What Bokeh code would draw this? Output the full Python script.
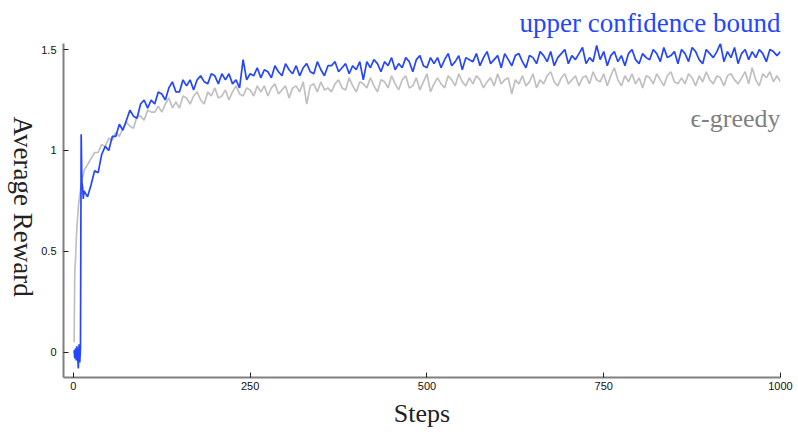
import math
from bokeh.plotting import figure
from bokeh.layouts import row
from bokeh.models import Label, FixedTicker, Range1d
from bokeh.embed import file_html
from bokeh.resources import INLINE

steps = list(range(1, 15)) + list(range(15, 1001, 5))

ucb = [
    0.01, -0.03, 0.02, -0.04, 0.03, -0.02, -0.08, 0.04, -0.05, 0.02, 1.08, 0.84, 0.82, 0.76,
    0.80, 0.77, 0.83, 0.90, 0.89, 0.98, 1.02, 1.00, 1.07, 1.07,
    1.13, 1.10, 1.15, 1.20, 1.17, 1.16, 1.23, 1.25, 1.21, 1.25,
    1.23, 1.29, 1.28, 1.25, 1.31, 1.34, 1.29, 1.29, 1.35, 1.32,
    1.35, 1.30, 1.35, 1.37, 1.34, 1.33, 1.38, 1.37, 1.33, 1.38,
    1.35, 1.38, 1.33, 1.35, 1.31, 1.45, 1.35, 1.38, 1.37, 1.41,
    1.36, 1.40, 1.39, 1.36, 1.42, 1.39, 1.37, 1.43, 1.40, 1.38,
    1.42, 1.37, 1.41, 1.43, 1.39, 1.38, 1.44, 1.40, 1.37, 1.42,
    1.42, 1.44, 1.39, 1.41, 1.43, 1.38, 1.42, 1.40, 1.44, 1.35,
    1.44, 1.41, 1.45, 1.43, 1.39, 1.44, 1.42, 1.46, 1.40, 1.43,
    1.41, 1.46, 1.44, 1.39, 1.45, 1.47, 1.42, 1.41, 1.46, 1.43,
    1.46, 1.41, 1.45, 1.48, 1.42, 1.44, 1.47, 1.40, 1.46, 1.45,
    1.44, 1.48, 1.42, 1.46, 1.49, 1.43, 1.45, 1.47, 1.41, 1.48,
    1.45, 1.42, 1.47, 1.48, 1.44, 1.41, 1.47, 1.46, 1.43, 1.49,
    1.47, 1.44, 1.49, 1.42, 1.46, 1.48, 1.50, 1.43, 1.47, 1.45,
    1.48, 1.51, 1.43, 1.46, 1.44, 1.52, 1.45, 1.49, 1.42, 1.47,
    1.49, 1.44, 1.47, 1.42, 1.48, 1.50, 1.45, 1.43, 1.48, 1.46,
    1.45, 1.50, 1.48, 1.44, 1.51, 1.46, 1.47, 1.49, 1.43, 1.50,
    1.48, 1.44, 1.51, 1.49, 1.45, 1.43, 1.50, 1.48, 1.46, 1.49,
    1.53, 1.44, 1.49, 1.46, 1.51, 1.43, 1.48, 1.50, 1.45, 1.49,
    1.46, 1.50, 1.48, 1.44, 1.50, 1.49, 1.47, 1.49,
]

egreedy = [
    0.05, 0.40, 0.46, 0.55, 0.62, 0.67, 0.72, 0.75, 0.78, 0.80, 0.83, 0.85, 0.87, 0.88,
    0.90, 0.93, 0.96, 0.99, 0.99, 1.03, 1.02, 1.06, 1.05, 1.09,
    1.07, 1.11, 1.14, 1.12, 1.11, 1.17, 1.17, 1.15, 1.20, 1.19,
    1.19, 1.22, 1.19, 1.23, 1.26, 1.21, 1.24, 1.21, 1.27, 1.26,
    1.23, 1.27, 1.29, 1.25, 1.23, 1.29, 1.27, 1.31, 1.26, 1.27,
    1.30, 1.25, 1.29, 1.32, 1.28, 1.27, 1.31, 1.30, 1.27, 1.32,
    1.29, 1.32, 1.27, 1.31, 1.33, 1.28, 1.30, 1.32, 1.26, 1.31,
    1.32, 1.29, 1.34, 1.23, 1.32, 1.33, 1.29, 1.34, 1.30, 1.31,
    1.29, 1.33, 1.35, 1.31, 1.30, 1.36, 1.32, 1.29, 1.34, 1.33,
    1.31, 1.36, 1.32, 1.29, 1.35, 1.34, 1.31, 1.37, 1.33, 1.30,
    1.35, 1.37, 1.31, 1.32, 1.36, 1.30, 1.34, 1.38, 1.29, 1.33,
    1.36, 1.33, 1.31, 1.37, 1.35, 1.32, 1.38, 1.34, 1.32, 1.36,
    1.33, 1.37, 1.35, 1.31, 1.34, 1.36, 1.32, 1.38, 1.33, 1.35,
    1.36, 1.28, 1.35, 1.33, 1.37, 1.32, 1.34, 1.38, 1.31, 1.35,
    1.33, 1.37, 1.39, 1.34, 1.32, 1.36, 1.38, 1.33, 1.35, 1.37,
    1.32, 1.36, 1.37, 1.33, 1.39, 1.35, 1.34, 1.38, 1.32, 1.37,
    1.41, 1.35, 1.32, 1.37, 1.34, 1.38, 1.33, 1.36, 1.31, 1.37,
    1.36, 1.33, 1.38, 1.35, 1.32, 1.37, 1.39, 1.34, 1.33, 1.36,
    1.33, 1.38, 1.36, 1.32, 1.37, 1.34, 1.39, 1.35, 1.33, 1.37,
    1.36, 1.32, 1.37, 1.38, 1.35, 1.33, 1.36, 1.39, 1.33, 1.41,
    1.35, 1.32, 1.38, 1.36, 1.39, 1.34, 1.37, 1.34,
]

x_ticks = [0, 250, 500, 750, 1000]
x_tick_labels = ["0", "250", "500", "750", "1000"]
y_ticks = [0, 0.5, 1, 1.5]
y_tick_labels = ["0", "0.5", "1", "1.5"]

BLUE = "#2446ff"
GREY_LINE = "#c0c0c0"
GREY_TEXT = "#808080"
SERIF = "Liberation Serif"
SANS = "Liberation Sans"

LEFT_W = 38
H = 434

# narrow strip holding the vertical axis title (reads top to bottom)
side = figure(width=LEFT_W, height=H, output_backend="svg", toolbar_location=None,
              x_range=Range1d(0, LEFT_W), y_range=Range1d(0, H),
              min_border=0, x_axis_type=None, y_axis_type=None)
side.outline_line_color = None
side.grid.visible = False
side.add_layout(Label(x=22, y=H - 212, text="Average Reward", angle=-math.pi / 2,
                      text_align="center", text_baseline="middle",
                      text_font=SERIF, text_font_size="27px", text_color="#222222"))

p = figure(width=798 - LEFT_W, height=H, output_backend="svg", toolbar_location=None,
           x_range=Range1d(-14, 1000), y_range=Range1d(-0.125, 1.53),
           min_border_left=63 - LEFT_W, min_border_right=18, min_border_top=43, min_border_bottom=57)
p.outline_line_color = None
p.grid.visible = False
p.background_fill_color = "white"
p.border_fill_color = "white"

p.title.text = "upper confidence bound"
p.title.align = "right"
p.title.vertical_align = "top"
p.title.text_font = SERIF
p.title.text_font_style = "normal"
p.title.text_font_size = "27px"
p.title.text_color = BLUE
p.title.standoff = 8

p.line(steps, egreedy, line_color=GREY_LINE, line_width=1.7)
p.line(steps, ucb, line_color=BLUE, line_width=1.7)

for ax in (p.xaxis[0], p.yaxis[0]):
    ax.axis_line_color = "#808080"
    ax.axis_line_width = 2
    ax.major_tick_in = 5
    ax.major_tick_out = 0
    ax.major_tick_line_color = "#222222"
    ax.minor_tick_line_color = None
    ax.major_label_text_font = SANS
    ax.major_label_text_font_size = "11px"
    ax.major_label_text_color = "#111111"

p.xaxis[0].ticker = FixedTicker(ticks=x_ticks)
p.xaxis[0].major_label_overrides = {t: l for t, l in zip(x_ticks, x_tick_labels)}
p.xaxis[0].major_label_standoff = 4
p.xaxis[0].axis_label = "Steps"
p.xaxis[0].axis_label_standoff = 6
p.xaxis[0].axis_label_text_font = SERIF
p.xaxis[0].axis_label_text_font_style = "normal"
p.xaxis[0].axis_label_text_font_size = "26px"
p.xaxis[0].axis_label_text_color = "#222222"

p.yaxis[0].ticker = FixedTicker(ticks=y_ticks)
p.yaxis[0].major_label_overrides = {t: l for t, l in zip(y_ticks, y_tick_labels)}
p.yaxis[0].major_label_standoff = 7

p.add_layout(Label(x=1000, y=1.158, text="\u03f5-greedy",
                   text_align="right", text_baseline="middle",
                   text_font=SERIF, text_font_size="26px", text_color=GREY_TEXT))

layout = row(side, p, spacing=0)
open("out.html", "w").write(file_html(layout, INLINE))
